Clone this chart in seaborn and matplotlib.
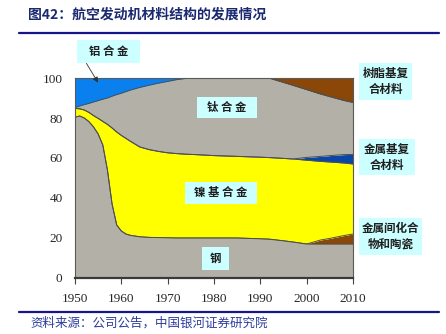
import numpy as np
import pandas as pd
import matplotlib
matplotlib.use("Agg")
import matplotlib.pyplot as plt
import seaborn as sns
from matplotlib.patches import Rectangle, FancyArrowPatch
from matplotlib.lines import Line2D

# ---------------- data (percent share) ----------------
years = [1950, 1951, 1952, 1953, 1954, 1955, 1956, 1957, 1958, 1959, 1960, 1961,
         1962, 1964, 1966, 1968, 1970, 1972, 1974, 1976, 1980, 1985, 1990, 1992,
         1995, 1997, 2000, 2003, 2005, 2008, 2010]
steel = [80.3, 81.0, 80.0, 78.2, 75.5, 72.0, 66.5, 54.0, 37.0, 26.5, 23.5, 22.0,
         21.3, 20.6, 20.3, 20.2, 20.1, 20.0, 20.0, 20.0, 20.0, 20.0, 19.6, 19.4,
         18.6, 18.0, 17.0, 17.0, 17.0, 17.0, 17.0]
intermetallic = [0, 0, 0, 0, 0, 0, 0, 0, 0, 0, 0, 0,
                 0, 0, 0, 0, 0, 0, 0, 0, 0, 0, 0, 0,
                 0, 0, 0, 2.0, 2.8, 4.2, 5.0]
nickel = [4.5, 3.6, 4.0, 4.6, 5.7, 7.8, 11.8, 22.8, 38.0, 46.5, 47.8, 47.8,
          47.0, 44.9, 43.9, 43.1, 42.5, 42.2, 41.9, 41.7, 41.2, 40.8, 40.8, 40.8,
          41.2, 41.5, 41.9, 39.3, 38.2, 36.3, 35.0]
metal_matrix = [0, 0, 0, 0, 0, 0, 0, 0, 0, 0, 0, 0,
                0, 0, 0, 0, 0, 0, 0, 0, 0, 0, 0, 0,
                0, 0, 1.4, 2.5, 3.2, 4.2, 4.8]
titanium = [0.4, 1.4, 2.7, 4.5, 6.8, 8.9, 11.1, 13.2, 15.9, 18.7, 21.1, 23.4,
            25.7, 29.8, 32.2, 34.1, 35.7, 37.0, 37.9, 38.3, 38.8, 39.2, 39.6, 39.7,
            38.0, 36.9, 33.9, 31.2, 29.5, 27.1, 26.0]
aluminum = [14.8, 14.0, 13.3, 12.7, 12.0, 11.3, 10.6, 10.0, 9.1, 8.3, 7.6, 6.8,
            6.0, 4.7, 3.6, 2.6, 1.7, 0.8, 0.2, 0, 0, 0, 0, 0,
            0, 0, 0, 0, 0, 0, 0]
resin = [0, 0, 0, 0, 0, 0, 0, 0, 0, 0, 0, 0,
         0, 0, 0, 0, 0, 0, 0, 0, 0, 0, 0, 0.1,
         2.2, 3.6, 5.8, 8.0, 9.3, 11.2, 12.2]

x_ticks = [1950, 1960, 1970, 1980, 1990, 2000, 2010]
y_ticks = [0, 20, 40, 60, 80, 100]

title = "图42：航空发动机材料结构的发展情况"
source = "资料来源：公司公告，中国银河证券研究院"

# ---------------- styling ----------------
sns.set_style("white")
plt.rcParams['font.family'] = ['Noto Sans CJK SC', 'DejaVu Sans']

W, H = 446, 334
fig = plt.figure(figsize=(W / 100, H / 100), dpi=100)

def fx(px):
    return px / W

def fy(py):
    return 1 - py / H

ax = fig.add_axes([fx(75), fy(278), (353 - 75) / W, (278 - 78) / H])

layers = [
    (steel, '#b3b1a7'),
    (intermetallic, '#8a4708'),
    (nickel, '#ffff00'),
    (metal_matrix, '#0a46a8'),
    (titanium, '#b3b1a7'),
    (aluminum, '#0a80ee'),
    (resin, '#8a4708'),
]

x = np.array(years, dtype=float)
base = np.zeros(len(years))
tops = []
for vals, col in layers:
    top = base + np.array(vals, dtype=float)
    ax.fill_between(x, base, top, color=col, linewidth=0, zorder=1)
    tops.append(top)
    base = top

edge = '#4f4f4f'
for top in tops:
    sns.lineplot(x=x, y=top, ax=ax, color=edge, linewidth=0.7,
                 estimator=None, legend=False, zorder=2)

ax.set_xlim(1950, 2010)
ax.set_ylim(0, 100)
ax.set_xticks(x_ticks)
ax.set_yticks(y_ticks)
ax.set_xlabel("")
ax.set_ylabel("")
tick_font = dict(family='Liberation Serif', size=9.5)
ax.set_xticklabels([str(v) for v in x_ticks], fontdict=tick_font)
ax.set_yticklabels([str(v) for v in y_ticks], fontdict=tick_font)
ax.tick_params(axis='x', direction='out', length=4, width=0.8, color='#444444',
               pad=7, bottom=True)
ax.tick_params(axis='y', length=0, pad=9)
for s in ['left', 'right', 'top']:
    ax.spines[s].set_color('#5a5a5a')
    ax.spines[s].set_linewidth(0.8)
ax.spines['bottom'].set_color('#3a3a3a')
ax.spines['bottom'].set_linewidth(1.6)
ax.grid(False)

# ---------------- title, rules, source ----------------
fig.text(fx(28), fy(15), title, fontsize=10, fontweight='bold',
         color='#1b2a70', va='center', ha='left')
fig.add_artist(Line2D([fx(19), fx(439)], [fy(33), fy(33)], color='#16168a',
                      linewidth=1.6, transform=fig.transFigure))
fig.add_artist(Line2D([fx(19), fx(439)], [fy(312), fy(312)], color='#16168a',
                      linewidth=1.6, transform=fig.transFigure))
fig.text(fx(30), fy(323), source, fontsize=9, style='italic',
         color='#2b3c9c', va='center', ha='left')

# ---------------- labels ----------------
def label(x0, y0, x1, y1, text, size=7.5, ls=1.2):
    fig.add_artist(Rectangle((fx(x0), fy(y1)), (x1 - x0) / W, (y1 - y0) / H,
                             transform=fig.transFigure, facecolor='#ccffff',
                             edgecolor='none', zorder=5))
    fig.text(fx((x0 + x1) / 2), fy((y0 + y1) / 2), text, fontsize=size,
             fontweight='bold', color='#1e1e1e', ha='center', va='center',
             linespacing=ls, zorder=6)

label(77, 40, 140, 63, "铝 合 金", 8.2)
label(197, 97, 257, 118, "钛 合 金", 8.2)
label(185, 182, 257, 204, "镍 基 合 金", 8.2)
label(202, 247, 229, 270, "钢", 8.2)
label(359, 63, 412, 100, "树脂基复\n合材料", 8.3, 1.3)
label(359, 139, 415, 175, "金属基复\n合材料", 8.3, 1.3)
label(359, 218, 422, 255, "金属间化合\n物和陶瓷", 8.3, 1.3)

fig.add_artist(FancyArrowPatch((fx(85), fy(61)), (fx(99.5), fy(85)),
                               transform=fig.transFigure, arrowstyle='-|>',
                               mutation_scale=8, color='#333333',
                               linewidth=0.6, zorder=6))

fig.savefig("out.png", dpi=100)
